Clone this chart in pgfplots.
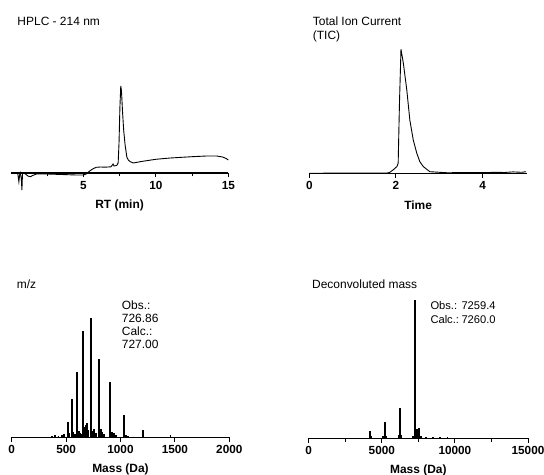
\documentclass[border=0pt]{standalone}
\usepackage{fontspec}
\setmainfont{Liberation Sans}
\usepackage{pgfplots}
\pgfplotsset{compat=1.18}
\pgfplotsset{
  spec/.style={
    scale only axis,
    axis x line=bottom,
    axis y line=none,
    ymin=0,
    clip=false,
    tick align=outside,
    x axis line style={line width=1.2bp, -},
    major tick length=4.5bp,
    minor tick length=3.5bp,
    tick style={line width=1bp, black},
    tick label style={font=\fontsize{11.8}{11.8}\selectfont\bfseries},
    /pgf/number format/assume math mode=true,
    /pgf/number format/1000 sep={},
    scaled x ticks=false,
    xlabel style={font=\fontsize{12}{12}\selectfont\bfseries, at={(axis description cs:0.5,0)}, anchor=center, yshift=-32bp},
  }
}
\begin{document}
\begin{tikzpicture}
\path[use as bounding box] (0,0) rectangle (544bp,475bp);

% Panel 1: HPLC
\begin{axis}[spec, at={(10.9bp,302bp)}, anchor=south west, width=217.4bp, height=87bp,
  xmin=0, xmax=15, ymax=87, xtick={5,10,15}, minor xtick={2.5,7.5,12.5}, xlabel={RT (min)}]
\addplot[black, mark=none, line width=0.9bp] coordinates {
(0,0) (0.4,0) (0.48,-1) (0.55,-8.7) (0.6,-2) (0.65,0) (0.72,-6) (0.76,-17) (0.8,-1) (0.88,0)
(1.0,-1) (1.2,-3.2) (1.35,-3.7) (1.5,-2.5) (1.8,-0.8) (2.5,-1) (3.5,-1.5) (4.5,-2) (5.0,-2)
(5.2,-1) (5.46,2.3) (5.7,4.5) (5.9,5.7) (6.2,6) (6.5,5.8) (6.9,6.2) (7.0,8) (7.05,9) (7.12,7)
(7.3,7.5) (7.4,10) (7.46,30) (7.52,65) (7.58,87) (7.63,82) (7.7,62) (7.78,43) (7.88,28)
(8.0,16) (8.1,13) (8.23,11.3) (8.45,10) (9,11.5) (10,13.7) (11,15) (12.5,16.3) (13.5,17)
(14.2,17) (14.6,16) (14.85,14.5) (15,13)
};
\end{axis}

% Panel 2: TIC
\begin{axis}[spec, at={(309.3bp,301.7bp)}, anchor=south west, width=217.6bp, height=124bp,
  xmin=0, xmax=5.02, ymax=124, xtick={0,2,4}, xlabel={Time}]
\addplot[black, mark=none, line width=0.9bp] coordinates {
(0,0) (1.0,0.3) (1.8,0.3) (1.86,1) (1.95,4) (2.02,6.7) (2.05,10) (2.08,70) (2.115,124)
(2.17,110) (2.25,83) (2.32,53) (2.40,33) (2.48,20) (2.55,11.6) (2.63,6.7) (2.78,1.6)
(3.0,1) (3.2,0.5) (3.5,0.8) (4.0,0.6) (4.3,1) (4.5,0.8) (4.7,1.4) (4.8,1.2) (4.9,1) (5.0,1.6)
};
\end{axis}

% Panel 3: m/z
\begin{axis}[spec, at={(11.7bp,37.7bp)}, anchor=south west, width=217.6bp, height=119bp,
  xmin=0, xmax=2000, ymax=119, xtick={0,500,1000,1500,2000}, xlabel={Mass (Da)}]
\addplot[black, ycomb, mark=none, line width=1.8bp] coordinates {
(370,1.5) (400,2) (430,1.5) (460,2.5) (480,3) (515,15) (530,4) (551,38) (565,5) (580,3)
(600,65.6) (615,6) (625,4) (640,3) (652,106.6) (668,10) (680,12) (690,14) (700,7) (726,119)
(745,6) (760,8) (775,4) (805,78) (820,8) (830,5) (850,3) (903,55.6) (920,5) (940,4) (960,2)
(1032,22) (1050,2) (1070,1.5) (1204,7) (1460,2)
};
\end{axis}

% Panel 4: deconvoluted
\begin{axis}[spec, at={(308.7bp,36.7bp)}, anchor=south west, width=219.3bp, height=138.3bp,
  xmin=0, xmax=15000, ymax=138.3, xtick={0,5000,10000,15000}, minor xtick={2500,7500,12500}, xlabel={Mass (Da)}]
\addplot[black, ycomb, mark=none, line width=1.8bp] coordinates {
(4172,7.6) (4250,2) (5100,2) (5198,16.3) (5300,2) (6150,3) (6245,30) (6350,3) (7150,2)
(7259,138.3) (7390,9) (7520,10) (7700,2) (8000,1.5) (8500,1.5) (9000,1.2) (9500,1)
};
\end{axis}

% Titles and annotations
\begin{scope}[every node/.style={anchor=base west, inner sep=0, font=\fontsize{12}{12}\selectfont}]
\node at (17.3bp,449bp) {HPLC - 214 nm};
\node at (312.7bp,449.7bp) {Total Ion Current};
\node at (312.7bp,435bp) {(TIC)};
\node at (16.7bp,186.5bp) {m/z};
\node at (312bp,186bp) {Deconvoluted mass};
\node at (121.7bp,165.7bp) {Obs.:};
\node at (121.7bp,152.7bp) {726.86};
\node at (121.7bp,139.3bp) {Calc.:};
\node at (121.7bp,126bp) {727.00};
\end{scope}
\begin{scope}[every node/.style={anchor=base west, inner sep=0, font=\fontsize{11.2}{11.2}\selectfont}]
\node at (430.3bp,165.7bp) {Obs.:};
\node at (461.3bp,165.7bp) {7259.4};
\node at (430.3bp,151.7bp) {Calc.:};
\node at (461.3bp,151.7bp) {7260.0};
\end{scope}
\end{tikzpicture}
\end{document}
